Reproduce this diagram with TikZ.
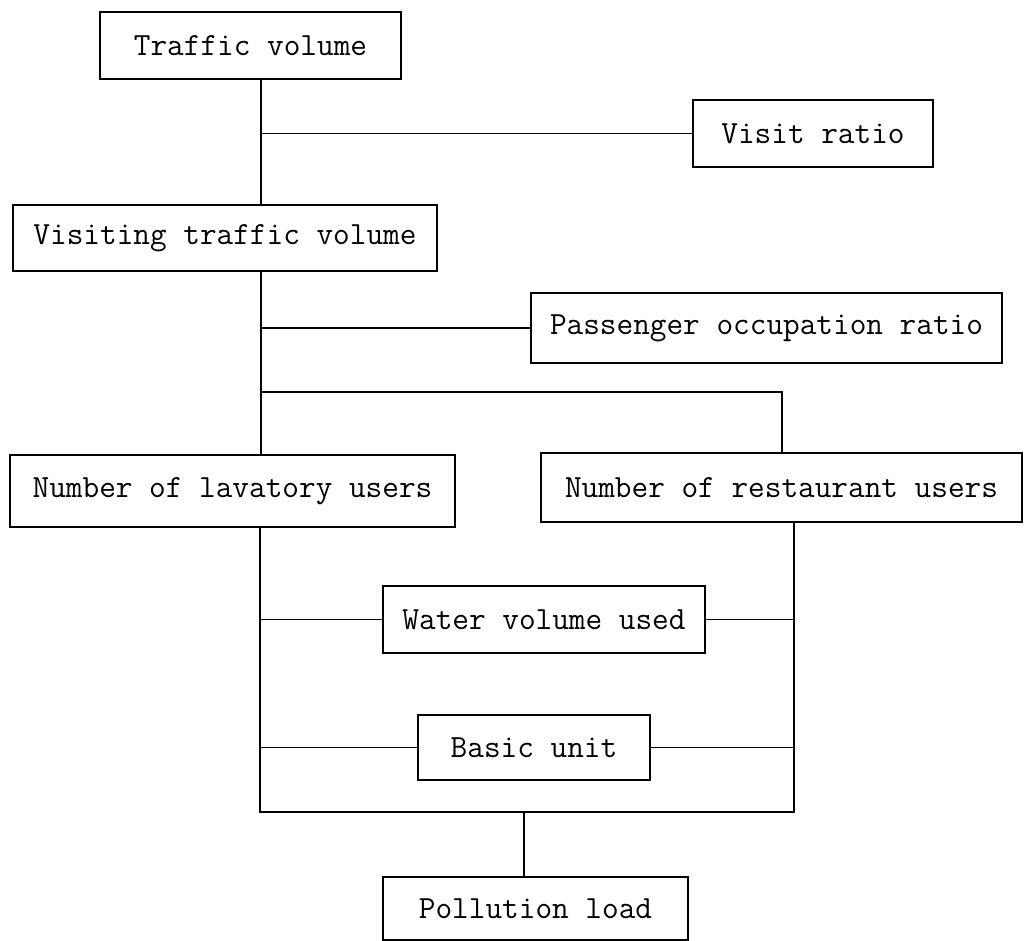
\documentclass[tikz,border=0pt]{standalone}
\begin{document}
\begin{tikzpicture}[line width=0.9pt,
    box/.style={draw, inner sep=0pt, font=\ttfamily\fontsize{18.4}{20}\selectfont}]
            \useasboundingbox (0,0) rectangle (20.54,-18.82);
            \node[box, minimum width=6.02cm, minimum height=1.34cm] (b0) at (5.01, -0.91) {Traffic volume};
            \node[box, minimum width=4.8cm, minimum height=1.34cm] (b1) at (16.26, -2.67) {Visit ratio};
            \node[box, minimum width=8.48cm, minimum height=1.32cm] (b2) at (4.5, -4.76) {Visiting traffic volume};
            \node[box, minimum width=9.42cm, minimum height=1.4cm] (b3) at (15.33, -6.56) {Passenger occupation ratio};
            \node[box, minimum width=8.9cm, minimum height=1.44cm] (b4) at (4.65, -9.82) {Number of lavatory users};
            \node[box, minimum width=9.62cm, minimum height=1.38cm] (b5) at (15.63, -9.75) {Number of restaurant users};
            \node[box, minimum width=6.44cm, minimum height=1.34cm] (b6) at (10.88, -12.39) {Water volume used};
            \node[box, minimum width=4.64cm, minimum height=1.3cm] (b7) at (10.68, -14.95) {Basic unit};
            \node[box, minimum width=6.1cm, minimum height=1.26cm] (b8) at (10.71, -18.17) {Pollution load};
            \coordinate (c0) at (5.22, -2.67);
            \coordinate (c1) at (5.22, -6.56);
            \coordinate (c2) at (5.22, -7.84);
            \coordinate (c3) at (15.64, -7.84);
            \coordinate (c4) at (5.2, -16.24);
            \coordinate (c5) at (15.88, -16.24);
            \coordinate (c6) at (10.48, -16.24);
            \draw (b0.south -| c0) -- (b2.north -| c0);
            \draw (c0) -- (b1.west);
            \draw (b2.south -| c0) -- (b4.north -| c0);
            \draw (c1) -- (b3.west);
            \draw (c2) -- (c3) -- (b5.north -| c3);
            \draw (b4.south -| c4) -- (c4) -- (c5) -- (b5.south -| c5);
            \draw (b6.west -| c4) -- (b6.west);
            \draw (b6.east) -- (b6.east -| c5);
            \draw (b7.west -| c4) -- (b7.west);
            \draw (b7.east) -- (b7.east -| c5);
            \draw (c6) -- (b8.north -| c6);
         \end{tikzpicture}
\end{document}
